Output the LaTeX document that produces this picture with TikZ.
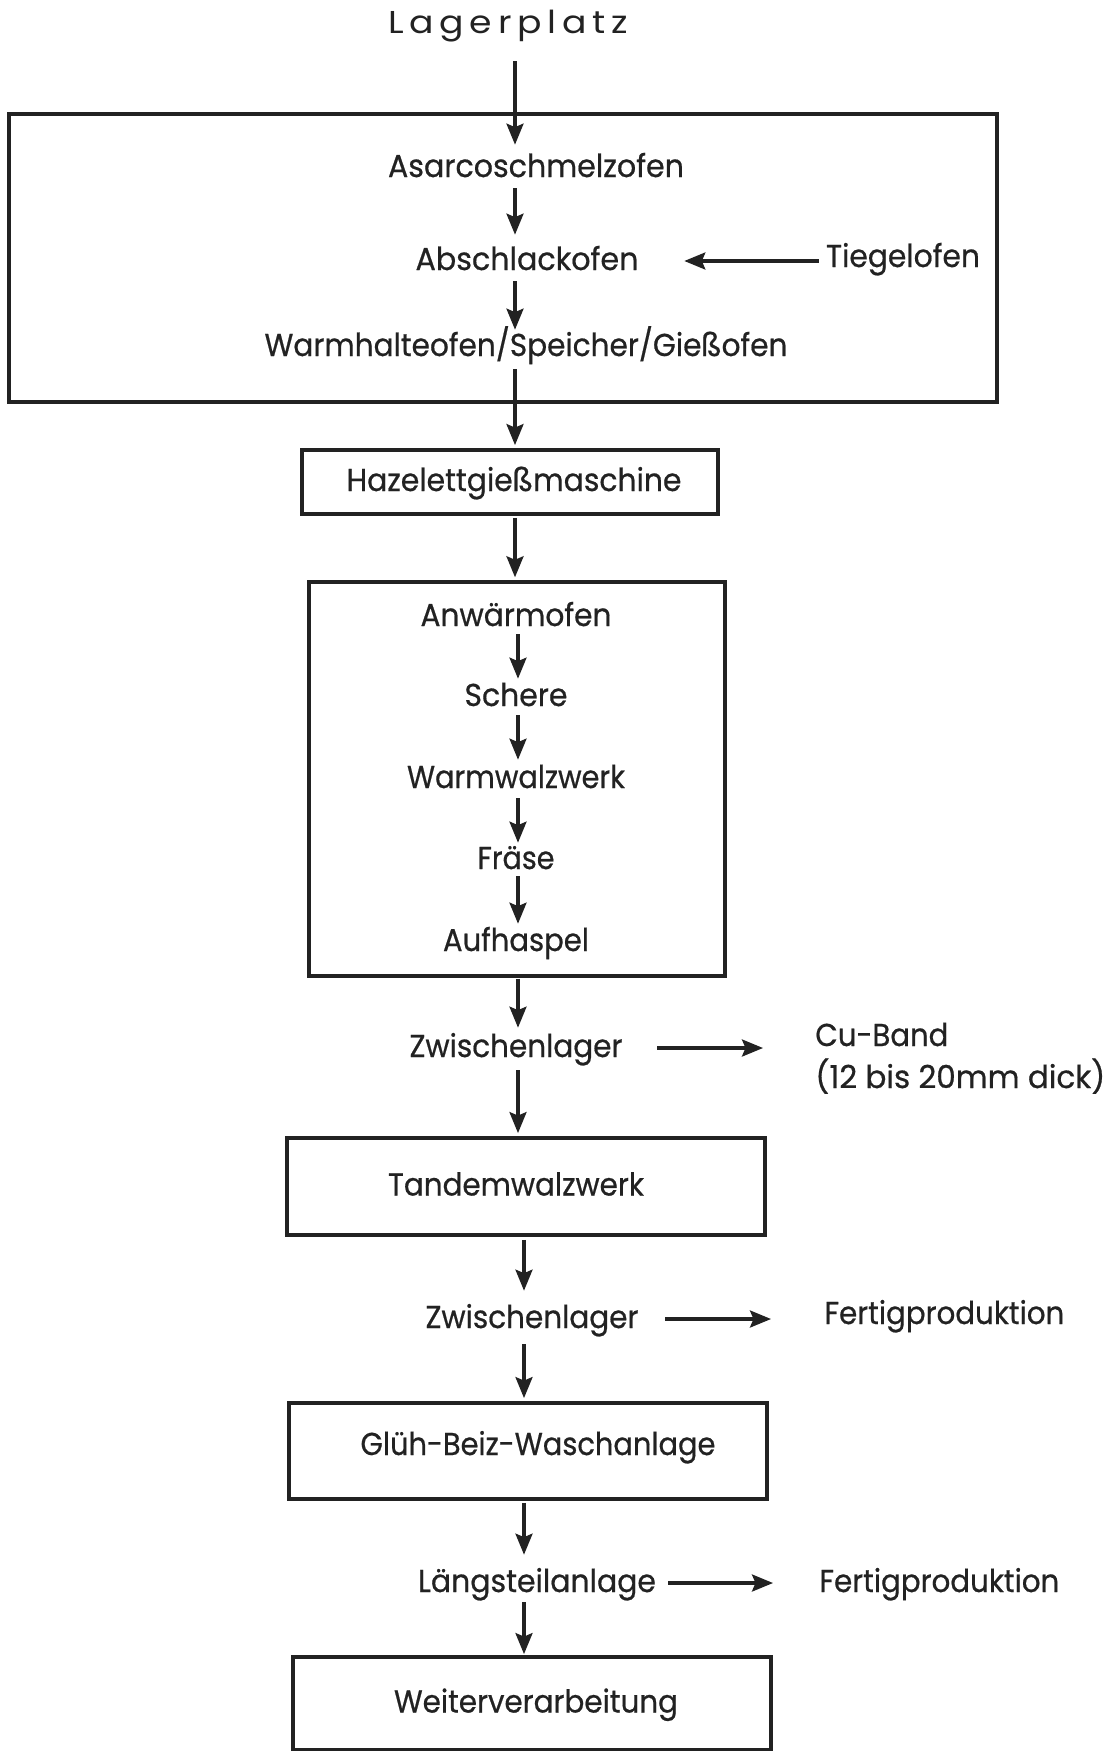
\documentclass[tikz,border=0pt]{standalone}
\usepackage{graphicx}
\usepackage{fontspec}
\setmainfont{Poppins}[FakeBold=0.6]
\newfontfamily\spacedfont[LetterSpace=16]{Poppins}
\usetikzlibrary{arrows.meta}
\definecolor{ink}{HTML}{222222}
\newcommand\fitw[2]{\resizebox{#1}{\height}{#2}}
\begin{document}
\begin{tikzpicture}[x=0.02cm,y=-0.02cm,
  txt/.style={inner sep=0pt, text height=0.48cm, text depth=0.12cm,
              font=\fontsize{18}{21}\selectfont, text=ink},
  box/.style={draw=ink, line width=2.2pt, inner sep=0pt, text height=0.48cm,
              text depth=0.12cm, font=\fontsize{18}{21}\selectfont, text=ink},
  arr/.style={draw=ink, line width=1.8pt,
              -{Stealth[length=0.42cm,width=0.34cm,inset=0.07cm]}}]
\useasboundingbox (0,0) rectangle (1108,1751);
\fill[white] (0,0) rectangle (1108,1751);

\coordinate (colA) at (515,0);
\coordinate (colB) at (518,0);
\coordinate (colC) at (524,0);

% boxes
\node[box, minimum width=19.76cm, minimum height=5.76cm] (ofen) at (503,258) {};
\node[box, minimum width=8.32cm, minimum height=1.28cm] (hazel) at (510,482)
  {\hspace*{0.16cm}\fitw{6.7cm}{Hazelettgießmaschine}};
\node[box, minimum width=8.32cm, minimum height=7.88cm, line width=2pt] (warmgrp) at (517,779) {};
\node[box, minimum width=9.56cm, minimum height=1.94cm] (tandem) at (526,1186.5)
  {\hspace*{-0.4cm}\fitw{5.12cm}{Tandemwalzwerk}};
\node[box, minimum width=9.56cm, minimum height=1.92cm] (glueh) at (528,1451)
  {\hspace*{0.4cm}\raisebox{0.1cm}{\fitw{7.1cm}{Glüh-Beiz-Waschanlage}}};
\node[box, minimum width=9.56cm, minimum height=1.86cm] (weiter) at (532,1703.5)
  {\hspace*{0.16cm}\fitw{5.68cm}{Weiterverarbeitung}};

% texts
\node[txt] (lager) at (508,25) {\fitw{4.8cm}{\spacedfont\fontsize{18}{21}\selectfont Lagerplatz}};
\node[txt] (asarco) at (536,168) {\fitw{5.92cm}{Asarcoschmelzofen}};
\node[txt] (abschl) at (527,261) {\fitw{4.46cm}{Abschlackofen}};
\node[txt] (tiegel) at (903,258) {\fitw{3.08cm}{Tiegelofen}};
\node[txt] (warmh) at (526,347) {\fitw{10.46cm}{Warmhalteofen/Speicher/Gießofen}};

\node[txt] (anw) at (516,617) {\fitw{3.82cm}{Anwärmofen}};
\node[txt] (schere) at (516,697) {\fitw{2.06cm}{Schere}};
\node[txt] (warmw) at (516,779) {\fitw{4.36cm}{Warmwalzwerk}};
\node[txt] (fraese) at (516,860) {\fitw{1.54cm}{Fräse}};
\node[txt] (aufh) at (516,942) {\fitw{2.92cm}{Aufhaspel}};

\node[txt] (zw1) at (516,1048) {\fitw{4.26cm}{Zwischenlager}};
\node[txt, anchor=west] (cu) at (815,1037) {\fitw{2.66cm}{Cu-Band}};
\node[txt, anchor=west] (cudim) at (815,1079) {\fitw{5.8cm}{(12 bis 20mm dick)}};

\node[txt] (zw2) at (532,1319) {\fitw{4.26cm}{Zwischenlager}};
\node[txt, anchor=west] (fertig1) at (824,1315) {\fitw{4.8cm}{Fertigproduktion}};

\node[txt] (laengs) at (537,1583) {\fitw{4.76cm}{Längsteilanlage}};
\node[txt, anchor=west] (fertig2) at (819,1583) {\fitw{4.8cm}{Fertigproduktion}};

% vertical arrows
\draw[arr, shorten <=0.42cm, shorten >=0.16cm] (lager.south -| colA) -- (asarco.north -| colA);
\draw[arr, shorten <=0.1cm, shorten >=0.22cm] (asarco.south -| colA) -- (abschl.north -| colA);
\draw[arr, shorten <=0.1cm, shorten >=0.04cm] (abschl.south -| colA) -- (warmh.north -| colA);
\draw[arr, shorten <=0.14cm, shorten >=0.06cm] (warmh.south -| colA) -- (hazel.north -| colA);
\draw[arr, shorten <=0.04cm, shorten >=0.06cm] (hazel.south -| colA) -- (warmgrp.north -| colA);

\draw[arr, shorten <=0.04cm, shorten >=0.06cm] (anw.south -| colB) -- (schere.north -| colB);
\draw[arr, shorten <=0.06cm, shorten >=0.08cm] (schere.south -| colB) -- (warmw.north -| colB);
\draw[arr, shorten <=0.08cm, shorten >=0.04cm] (warmw.south -| colB) -- (fraese.north -| colB);
\draw[arr, shorten <=0.02cm, shorten >=0.06cm] (fraese.south -| colB) -- (aufh.north -| colB);

\draw[arr, shorten <=0.02cm, shorten >=0.1cm] (warmgrp.south -| colB) -- (zw1.north -| colB);
\draw[arr, shorten <=0.14cm, shorten >=0.06cm] (zw1.south -| colB) -- (tandem.north -| colB);
\draw[arr, shorten <=0.06cm, shorten >=0.26cm] (tandem.south -| colC) -- (zw2.north -| colC);
\draw[arr, shorten <=0.2cm, shorten >=0.06cm] (zw2.south -| colC) -- (glueh.north -| colC);
\draw[arr, shorten <=0.04cm, shorten >=0.26cm] (glueh.south -| colC) -- (laengs.north -| colC);
\draw[arr, shorten <=0.08cm, shorten >=0.02cm] (laengs.south -| colC) -- (weiter.north -| colC);

% horizontal arrows
\draw[arr, shorten <=0.14cm, shorten >=0.91cm] (tiegel.west |- abschl.east) -- (abschl.east);
\draw[arr, shorten <=0.69cm, shorten >=1.04cm] (zw1.east) -- (zw1.east -| cu.west);
\draw[arr, shorten <=0.53cm, shorten >=1.06cm] (zw2.east) -- (zw2.east -| fertig1.west);
\draw[arr, shorten <=0.24cm, shorten >=0.92cm] (laengs.east) -- (laengs.east -| fertig2.west);
\end{tikzpicture}
\end{document}
